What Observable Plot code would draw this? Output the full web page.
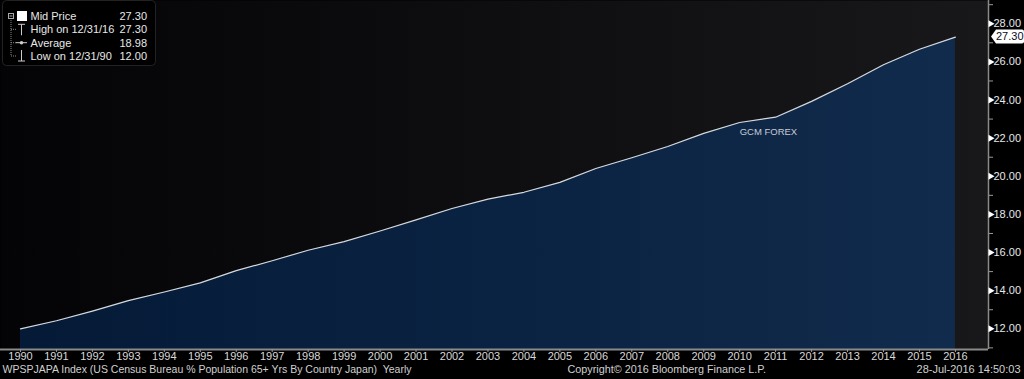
<!DOCTYPE html>
<html><head><meta charset="utf-8">
<script src="https://cdn.jsdelivr.net/npm/d3@7"></script>
<script src="https://cdn.jsdelivr.net/npm/@observablehq/plot@0.6"></script>
<style>
html,body{margin:0;padding:0;background:#000;}
#chart{position:relative;width:1024px;height:379px;overflow:hidden;}
</style></head><body><div id="chart"></div>
<script>
const years = [1990,1991,1992,1993,1994,1995,1996,1997,1998,1999,2000,2001,2002,2003,2004,2005,2006,2007,2008,2009,2010,2011,2012,2013,2014,2015,2016];
const values = [12.00,12.42,12.93,13.48,13.93,14.41,15.05,15.57,16.12,16.57,17.13,17.71,18.31,18.80,19.16,19.68,20.41,20.97,21.56,22.25,22.82,23.10,23.93,24.85,25.85,26.66,27.30];
const yMajorTicks = [12,14,16,18,20,22,24,26,28];
const yMinorTicks = [11,13,15,17,19,21,23,25,27,29];
const legendLabels = ["Mid Price","High on 12/31/16","Average","Low on 12/31/90"];
const legendValues = ["27.30","27.30","18.98","12.00"];
const lastLabel = "27.30";
const watermark = [{year: 2010, value: 22.3, label: "GCM FOREX"}];
const footerLeft = "WPSPJAPA Index (US Census Bureau % Population 65+ Yrs By Country Japan)  Yearly";
const footerCenter = "Copyright\u00A9 2016 Bloomberg Finance L.P.";
const footerRight = "28-Jul-2016 14:50:03";

const data = years.map((y, i) => ({year: y, value: values[i]}));
const xDomain = [1989.444, 2016.92];
const yDomain = [10.914, 29.22];

const defsMark = () => {
  const defs = d3.create("svg:defs");
  const bg = defs.append("linearGradient").attr("id","bgGrad").attr("x1",0).attr("x2",1).attr("y1",0).attr("y2",0);
  bg.append("stop").attr("offset","0%").attr("stop-color","#040407");
  bg.append("stop").attr("offset","100%").attr("stop-color","#18181b");
  const ar = defs.append("linearGradient").attr("id","areaGrad").attr("x1",0).attr("x2",1).attr("y1",0).attr("y2",0);
  ar.append("stop").attr("offset","0%").attr("stop-color","#041a37");
  ar.append("stop").attr("offset","100%").attr("stop-color","#112b4c");
  return defs.node();
};

const lastLabelMark = (index, scales, vals, dims) => {
  const y = scales.y(values[values.length - 1]);
  const x = dims.width - dims.marginRight + 3;
  const g = d3.create("svg:g");
  g.append("path")
    .attr("d", `M${x},${y} L${x+5},${y-7} H${x+31} Q${x+33},${y-7} ${x+33},${y-5} V${y+5} Q${x+33},${y+7} ${x+31},${y+7} H${x+5} Z`)
    .attr("fill", "#ffffff");
  g.append("text").attr("x", x+5).attr("y", y).attr("dy", "0.35em").attr("text-anchor", "start")
    .attr("fill", "#0a0a1a").attr("font-size", 11).text(lastLabel);
  return g.node();
};

const legendMark = () => {
  const g = d3.create("svg:g");
  g.append("rect").attr("x", 2.5).attr("y", 0.5).attr("width", 153).attr("height", 65)
    .attr("rx", 4).attr("fill", "#000").attr("stroke", "#222");
  const rowY = [16, 29.3, 42.7, 56];
  g.append("path").attr("d", `M11,18 V${rowY[3]} M11,${rowY[1]} H16 M11,${rowY[2]} H16 M11,${rowY[3]} H16`)
    .attr("stroke", "#888").attr("stroke-dasharray", "1,1").attr("fill", "none");
  g.append("rect").attr("x", 8.5).attr("y", 13.5).attr("width", 5).attr("height", 5)
    .attr("fill", "none").attr("stroke", "#aaa");
  g.append("path").attr("d", "M9.5,16 H12.5").attr("stroke", "#aaa");
  g.append("rect").attr("x", 17).attr("y", 11).attr("width", 10).attr("height", 10).attr("fill", "#fff");
  g.append("path").attr("d", `M18,${rowY[1]-5} H25 M21.5,${rowY[1]-5} V${rowY[1]+6}`).attr("stroke", "#ccc").attr("fill","none");
  g.append("path").attr("d", `M16,${rowY[2]} H27`).attr("stroke", "#ccc");
  g.append("circle").attr("cx", 21.5).attr("cy", rowY[2]).attr("r", 1.8).attr("fill", "#ccc");
  g.append("path").attr("d", `M21.5,${rowY[3]-6} V${rowY[3]+5} M18,${rowY[3]+5} H25`).attr("stroke", "#ccc").attr("fill","none");
  legendLabels.forEach((t, i) => {
    g.append("text").attr("x", 30.5).attr("y", rowY[i]).attr("dy", "0.35em").attr("fill", "#e8e8e8")
      .attr("text-anchor", "start").attr("font-size", 11).text(t);
    g.append("text").attr("x", 147).attr("y", rowY[i]).attr("dy", "0.35em").attr("fill", "#e8e8e8")
      .attr("text-anchor", "end").attr("font-size", 11).text(legendValues[i]);
  });
  return g.node();
};

const chart = Plot.plot({
  width: 1024,
  height: 379,
  marginLeft: 0,
  marginRight: 36,
  marginTop: 0,
  marginBottom: 30,
  style: {background: "#000", fontFamily: "'Liberation Sans', Arial, sans-serif", fontSize: "11px", color: "#d0d0d0"},
  x: {domain: xDomain, axis: null},
  y: {domain: yDomain, axis: null},
  marks: [
    defsMark,
    Plot.frame({fill: "url(#bgGrad)", stroke: null}),
    Plot.areaY(data, {x: "year", y1: yDomain[0], y2: "value", fill: "url(#areaGrad)"}),
    Plot.line(data, {x: "year", y: "value", stroke: "#d8d8d8", strokeWidth: 1.2}),
    Plot.ruleY([yDomain[0]], {stroke: "#8a8a8a", strokeWidth: 2}),
    Plot.ruleX([xDomain[1]], {stroke: "#8a8a8a", strokeWidth: 1.5}),
    Plot.axisX({ticks: years, tickFormat: "d", tickSize: 3, tickPadding: 0, stroke: "#999", fill: "#d8d8d8", anchor: "bottom", label: null}),
    Plot.axisY({anchor: "right", ticks: yMinorTicks, tickSize: 4, text: null, stroke: "#999", label: null}),
    Plot.axisY({anchor: "right", ticks: yMajorTicks, tickSize: 0, tickPadding: 5, tickFormat: d3.format(".2f"), fill: "#e8e8e8", label: null}),
    Plot.dot(yMajorTicks, {x: () => xDomain[1], y: d => d, symbol: "triangle", rotate: 90, r: 2.6, fill: "#ffffff", dx: 2}),
    Plot.text(watermark, {x: "year", y: "value", text: "label", textAnchor: "start", fill: "#c8ccd4", fontSize: 9.5}),
    lastLabelMark,
    Plot.text([footerLeft], {frameAnchor: "bottom-left", dx: 2, dy: 23, textAnchor: "start", fill: "#d0d0d0", fontSize: 10.5}),
    Plot.text([footerCenter], {frameAnchor: "bottom-left", dx: 567, dy: 23, textAnchor: "start", fill: "#d0d0d0", fontSize: 10.8}),
    Plot.text([footerRight], {frameAnchor: "bottom-right", dx: 32, dy: 23, textAnchor: "end", fill: "#d0d0d0", fontSize: 11}),
    legendMark
  ]
});
document.getElementById("chart").appendChild(chart);
</script>
</body></html>
